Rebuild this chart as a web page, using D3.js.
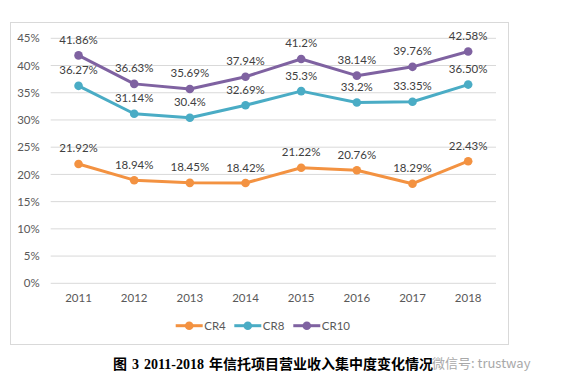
<!DOCTYPE html>
<html><head><meta charset="utf-8">
<script src="https://cdn.jsdelivr.net/npm/d3@7"></script>
<style>body{margin:0;background:#fff}</style>
</head><body>
<script>
const years = ["2011","2012","2013","2014","2015","2016","2017","2018"];
const cr4 = [21.92,18.94,18.45,18.42,21.22,20.76,18.29,22.43];
const cr8 = [36.27,31.14,30.4,32.69,35.3,33.2,33.35,36.50];
const cr10 = [41.86,36.63,35.69,37.94,41.2,38.14,39.76,42.58];
const cr4Labels = ["21.92%","18.94%","18.45%","18.42%","21.22%","20.76%","18.29%","22.43%"];
const cr8Labels = ["36.27%","31.14%","30.4%","32.69%","35.3%","33.2%","33.35%","36.50%"];
const cr10Labels = ["41.86%","36.63%","35.69%","37.94%","41.2%","38.14%","39.76%","42.58%"];
const yTicks = [0,5,10,15,20,25,30,35,40,45];
const seriesNames = ["CR4","CR8","CR10"];
const colors = ["#F39241","#4AACC5","#7F62A1"];
const caption = "图 3 2011-2018 年信托项目营业收入集中度变化情况";
const watermark = "微信号: trustway";

const W=561,H=392;
const svg=d3.select("body").append("svg").attr("width",W).attr("height",H);
const font="Lato, 'Open Sans', sans-serif";

svg.append("rect").attr("x",10.5).attr("y",22.5).attr("width",498).attr("height",322)
  .attr("fill","#fff").attr("stroke","#d9d9d9").attr("stroke-width",1);

const x=d3.scaleBand().domain(years).range([50.7,496]);
const y=d3.scaleLinear().domain([0,45]).range([283.3,38.3]);

const g=svg.append("g");
g.selectAll("line.grid").data(yTicks).enter().append("line")
  .attr("x1",50.7).attr("x2",496).attr("y1",d=>y(d)).attr("y2",d=>y(d))
  .attr("stroke","#d9d9d9").attr("stroke-width",1);

const yAxis=svg.append("g").attr("transform","translate(50.7,0)")
  .call(d3.axisLeft(y).tickValues(yTicks).tickFormat(d=>d+"%").tickSize(0).tickPadding(11));
yAxis.select(".domain").remove();
yAxis.selectAll("text").attr("font-family",font).attr("font-size",11.5).attr("fill","#595959");

const xAxis=svg.append("g").attr("transform","translate(0,283.3)")
  .call(d3.axisBottom(x).tickSize(0).tickPadding(11));
xAxis.select(".domain").remove();
xAxis.selectAll("text").attr("font-family",font).attr("font-size",11.5).attr("fill","#595959");

const cx=d=>x(d)+x.bandwidth()/2;
const allSeries=[[cr4,cr4Labels],[cr8,cr8Labels],[cr10,cr10Labels]];
const line=d3.line().x((d,i)=>cx(years[i])).y(d=>y(d));
allSeries.forEach(([vals,labs],k)=>{
  const sg=svg.append("g");
  sg.append("path").attr("d",line(vals)).attr("fill","none").attr("stroke",colors[k])
    .attr("stroke-width",3).attr("stroke-linejoin","round").attr("stroke-linecap","round");
  sg.selectAll("circle").data(vals).enter().append("circle")
    .attr("cx",(d,i)=>cx(years[i])).attr("cy",d=>y(d)).attr("r",4.3).attr("fill",colors[k]);
  sg.selectAll("text").data(vals).enter().append("text")
    .attr("x",(d,i)=>cx(years[i])).attr("y",d=>y(d)-11.5)
    .attr("text-anchor","middle").attr("font-family",font).attr("font-size",11.5).attr("fill","#404040")
    .text((d,i)=>labs[i]);
});

// legend
const legX=[175.7,234.3,293.3];
seriesNames.forEach((n,k)=>{
  const lg=svg.append("g").attr("transform",`translate(${legX[k]},325.7)`);
  lg.append("line").attr("x1",0).attr("x2",27).attr("y1",0).attr("y2",0)
    .attr("stroke",colors[k]).attr("stroke-width",3);
  lg.append("circle").attr("cx",13.5).attr("cy",0).attr("r",4.3).attr("fill",colors[k]);
  lg.append("text").attr("x",28.5).attr("y",4).attr("font-family",font).attr("font-size",11.5)
    .attr("fill","#595959").text(n);
});

svg.append("text").attr("x",273).attr("y",369).attr("text-anchor","middle")
  .attr("font-family","'Liberation Serif','Noto Sans CJK SC',sans-serif")
  .attr("font-weight","bold").attr("font-size",14).attr("fill","#000")
  .attr("word-spacing",1.5).text(caption);

svg.append("text").attr("x",432).attr("y",367.5)
  .attr("font-family","'Noto Sans CJK SC',sans-serif").attr("font-size",13).attr("fill","#9a9a9a")
  .attr("opacity",0.85).text(watermark);
</script>
</body></html>
